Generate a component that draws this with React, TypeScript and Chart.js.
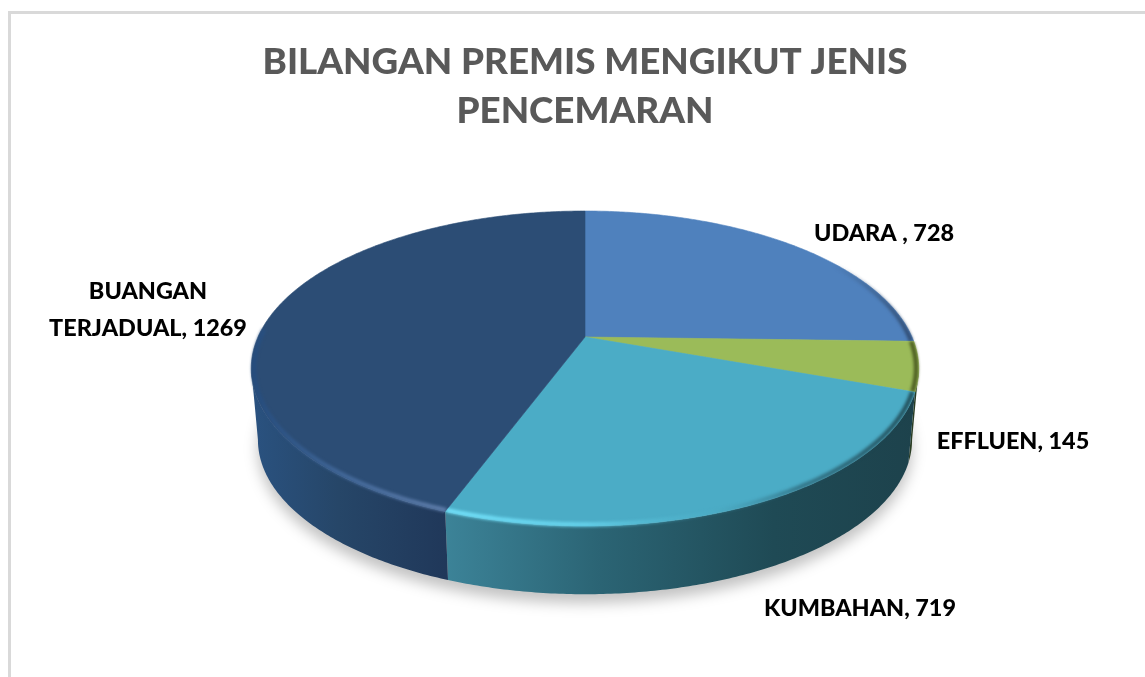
import React, { useEffect, useRef } from "react";
import { Chart, registerables } from "chart.js";

Chart.register(...registerables);

const categories = ["UDARA", "EFFLUEN", "KUMBAHAN", "BUANGAN TERJADUAL"];
const values = [728, 145, 719, 1269];
const topColors = ["#4f81bd", "#9bbb59", "#4bacc6", "#2c4d75"];
const titleLines = ["BILANGAN PREMIS MENGIKUT JENIS", "PENCEMARAN"];
const labelLines = [["UDARA , 728"], ["EFFLUEN, 145"], ["KUMBAHAN, 719"], ["BUANGAN", "TERJADUAL, 1269"]];

// Layout and shading, kept apart from the data
const labelAnchors = [[884, 233], [1013, 441], [860, 608], [148, 291]];
const VIEW = { cx: 585, cy: 337, rx: 327, ry: 151.2, k: 0.2, depth: 72, baseScale: 0.98 };
const SIDE_RIGHT = 0.2;
const SIDE_LEFT = Math.PI - 0.2;
const wallStops: [number, string][][] = [
  [[0, "#24415f"], [1, "#24415f"]],
  [[0, "#2a3d24"], [1, "#24402f"]],
  [[0, "#3c8398"], [0.33, "#2b6474"], [0.7, "#1f4a55"], [1, "#1d424c"]],
  [[0, "#2a5280"], [0.45, "#264668"], [1, "#20385a"]],
];
const rimStops: [number, string][][] = [
  [[0, "rgba(60,90,130,0)"], [0.75, "rgba(60,90,130,0)"], [1, "rgba(45,70,105,.9)"]],
  [[0, "rgba(70,85,30,.9)"], [1, "rgba(70,85,30,.9)"]],
  [[0, "rgba(115,225,250,1)"], [0.3, "rgba(105,215,240,.85)"], [0.55, "rgba(80,180,205,.2)"], [0.75, "rgba(35,80,95,.55)"], [1, "rgba(30,70,80,.9)"]],
  [[0, "rgba(35,75,125,.9)"], [0.5, "rgba(70,108,158,.9)"], [1, "rgba(95,125,170,1)"]],
];

function project(theta: number, scale = 1, dy = 0): [number, number] {
  const u = Math.cos(theta);
  const v = Math.sin(theta);
  const w = 1 - VIEW.k * v;
  return [VIEW.cx + (scale * VIEW.rx * u) / w, VIEW.cy + dy + (scale * VIEW.ry * v) / w];
}

function trace(ctx: CanvasRenderingContext2D, a0: number, a1: number, scale = 1, dy = 0, move = false) {
  const n = Math.max(2, Math.ceil(Math.abs(a1 - a0) / 0.01));
  for (let i = 0; i <= n; i++) {
    const [x, y] = project(a0 + ((a1 - a0) * i) / n, scale, dy);
    if (i === 0 && move) ctx.moveTo(x, y);
    else ctx.lineTo(x, y);
  }
}

function hGrad(ctx: CanvasRenderingContext2D, x0: number, x1: number, stops: [number, string][]) {
  const g = ctx.createLinearGradient(x0, 0, x1, 0);
  stops.forEach(([o, c]) => g.addColorStop(o, c));
  return g;
}

const pie3d = {
  id: "pie3d",
  beforeDraw(chart: any) {
    const ctx = chart.ctx as CanvasRenderingContext2D;
    ctx.save();
    ctx.strokeStyle = "#d9d9d9";
    ctx.lineWidth = 3;
    ctx.beginPath();
    ctx.moveTo(9.5, 677);
    ctx.lineTo(9.5, 12.5);
    ctx.lineTo(1145, 12.5);
    ctx.stroke();
    ctx.restore();
  },
  beforeDatasetDraw(chart: any) {
    const ctx = chart.ctx as CanvasRenderingContext2D;
    const arcs = chart.getDatasetMeta(0).data as any[];
    const TAU = Math.PI * 2;

    // soft ground shadow
    ctx.save();
    ctx.filter = "blur(7px)";
    ctx.fillStyle = "rgba(0,0,0,.24)";
    ctx.beginPath();
    trace(ctx, 0, TAU, VIEW.baseScale, VIEW.depth + 9, true);
    ctx.closePath();
    ctx.fill();
    ctx.restore();

    // side walls
    arcs.forEach((arc, i) => {
      const { startAngle: a0, endAngle: a1 } = arc.getProps(["startAngle", "endAngle"], true);
      const lo = Math.max(a0, SIDE_RIGHT);
      const hi = Math.min(a1, SIDE_LEFT);
      if (hi <= lo) return;
      ctx.beginPath();
      trace(ctx, lo, hi, 1, 0, true);
      trace(ctx, hi, lo, VIEW.baseScale, VIEW.depth);
      ctx.closePath();
      const p0 = project(lo)[0];
      const p1 = project(hi)[0];
      ctx.fillStyle = hGrad(ctx, Math.min(p0, p1), Math.max(p0, p1), wallStops[i]);
      ctx.fill();
    });

    // top faces
    arcs.forEach((arc, i) => {
      const { startAngle: a0, endAngle: a1 } = arc.getProps(["startAngle", "endAngle"], true);
      ctx.beginPath();
      ctx.moveTo(VIEW.cx, VIEW.cy);
      trace(ctx, a0, a1);
      ctx.closePath();
      ctx.fillStyle = topColors[i];
      ctx.strokeStyle = topColors[i];
      ctx.lineWidth = 0.6;
      ctx.fill();
      ctx.stroke();
    });

    // bevel along the rim
    arcs.forEach((arc, i) => {
      const { startAngle: a0, endAngle: a1 } = arc.getProps(["startAngle", "endAngle"], true);
      const lo = a0;
      const hi = Math.min(a1, Math.PI + 0.05);
      if (hi <= lo) return;
      const xA = project(lo)[0];
      const xB = project(hi)[0];
      const minX = i === 3 ? 250 : Math.min(xA, xB);
      const maxX = Math.max(xA, xB);
      ctx.save();
      // keep the bevel on its own slice
      ctx.beginPath();
      ctx.moveTo(VIEW.cx, VIEW.cy);
      trace(ctx, a0, a1, 1.02);
      ctx.closePath();
      ctx.clip();
      ctx.filter = "blur(1.8px)";
      ctx.beginPath();
      trace(ctx, lo, hi, 0.992, 0, true);
      ctx.lineWidth = 4.5;
      ctx.strokeStyle = hGrad(ctx, minX, maxX, rimStops[i]);
      ctx.stroke();
      ctx.restore();
    });
    return false;
  },
  afterDatasetsDraw(chart: any) {
    const ctx = chart.ctx as CanvasRenderingContext2D;
    ctx.save();
    ctx.font = "900 23.4px Lato";
    ctx.fillStyle = "#000000";
    ctx.textAlign = "center";
    ctx.textBaseline = "middle";
    labelLines.forEach((lines, i) => {
      lines.forEach((line, j) => {
        ctx.fillText(line, labelAnchors[i][0], labelAnchors[i][1] + j * 37);
      });
    });
    ctx.restore();
  },
};

export default function App() {
  const ref = useRef<HTMLCanvasElement>(null);
  useEffect(() => {
    const chart = new Chart(ref.current as HTMLCanvasElement, {
      type: "pie",
      data: {
        labels: categories,
        datasets: [{ data: values, backgroundColor: topColors, borderWidth: 0 }],
      },
      options: {
        responsive: false,
        animation: false,
        layout: { padding: { left: 25 } },
        plugins: {
          legend: { display: false },
          tooltip: { enabled: false },
          title: {
            display: true,
            text: titleLines,
            color: "#595959",
            font: { family: "Lato", size: 36.8, weight: "900", lineHeight: 1.35 },
            padding: { top: 37, bottom: 0 },
          },
        },
      },
      plugins: [pie3d],
    } as any);
    return () => chart.destroy();
  }, []);
  return (
    <div style={{ position: "absolute", left: 0, top: 0, width: 1145, height: 677, overflow: "hidden", background: "#fff" }}>
      <canvas ref={ref} width={1145} height={677} style={{ display: "block" }} />
    </div>
  );
}
